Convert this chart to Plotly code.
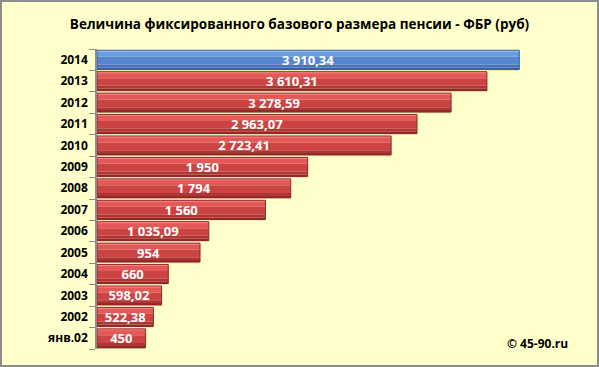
import plotly.graph_objects as go

categories = ["янв.02", "2002", "2003", "2004", "2005", "2006", "2007",
              "2008", "2009", "2010", "2011", "2012", "2013", "2014"]
values = [450, 522.38, 598.02, 660, 954, 1035.09, 1560,
          1794, 1950, 2723.41, 2963.07, 3278.59, 3610.31, 3910.34]
title_text = "Величина фиксированного базового размера пенсии - ФБР (руб)"
credit_text = "© 45-90.ru"


def fmt(v):
    if abs(v - round(v)) < 1e-9:
        s = f"{int(round(v)):,}".replace(",", " ")
    else:
        s = f"{v:,.2f}".replace(",", " ").replace(".", ",")
    return s


labels = [fmt(v) for v in values]
is_hi = [c == "2014" for c in categories]


def pick(blue, red):
    return [blue if h else red for h in is_hi]


W, H = 599, 367
ml, mr, mt, mb = 97, 39, 49, 18
BW = 0.88  # bar width in category units
half = BW / 2

fig = go.Figure()
# shadow under bars
fig.add_trace(go.Bar(
    y=categories, x=values, orientation="h",
    marker=dict(color="rgba(150,140,100,0.35)", line=dict(width=0)),
    width=0.07, offset=-half - 0.06, hoverinfo="skip", showlegend=False,
))
# gradient bands (from top to bottom): offset measured upward on category axis
bands = [
    (half - 0.07, 0.07, pick("#A9C8F2", "#FF8C8C")),
    (half - 0.30, 0.23, pick("#6B9CE0", "#E45858")),
    (-half + 0.22, half - 0.30 - (-half + 0.22), pick("#5587D0", "#CC4343")),
    (-half + 0.08, 0.14, pick("#4774BA", "#B03636")),
    (-half, 0.08, pick("#3A62A0", "#952A2A")),
]
for off, w, col in bands:
    fig.add_trace(go.Bar(
        y=categories, x=values, orientation="h",
        marker=dict(color=col, line=dict(width=0)),
        width=w, offset=off, hoverinfo="skip", showlegend=False,
    ))
# outline + labels
fig.add_trace(go.Bar(
    y=categories, x=values, orientation="h",
    marker=dict(color="rgba(0,0,0,0)",
                line=dict(color=pick("#3A62A0", "#8E2828"), width=1)),
    width=BW, text=labels, textposition="inside", insidetextanchor="middle",
    constraintext="none",
    textfont=dict(family="Open Sans", size=13, color="white", weight="bold"),
    textangle=0, hoverinfo="skip", showlegend=False,
))

fig.update_layout(
    template="none",
    width=W, height=H,
    barmode="overlay",
    paper_bgcolor="#FFFFCC", plot_bgcolor="#FFFFCC",
    margin=dict(l=ml, r=mr, t=mt, b=mb, pad=0),
    title=dict(text="<b>" + title_text + "</b>", x=0.5, xanchor="center",
               y=1 - 24 / H, yanchor="middle",
               font=dict(family="Open Sans", size=13.5, color="black")),
    xaxis=dict(range=[0, 4287], visible=False, showgrid=False, automargin=False,
               fixedrange=True),
    yaxis=dict(type="category", categoryorder="array", categoryarray=categories,
               range=[-0.5, len(categories) - 0.5], automargin=False,
               showline=True, linecolor="#8C8C8C", linewidth=1.5,
               ticks="outside", tickson="boundaries", ticklen=6, tickcolor="#8C8C8C",
               tickfont=dict(family="Open Sans", size=12, color="black", weight="bold"),
               ticklabelstandoff=5, showgrid=False, zeroline=False),
    annotations=[dict(text="<b>" + credit_text + "</b>", xref="paper", yref="paper",
                      x=(570 - ml) / (W - ml - mr), y=(H - 343 - mb) / (H - mt - mb),
                      xanchor="right", yanchor="middle", showarrow=False,
                      font=dict(family="Open Sans", size=12, color="black"))],
    shapes=[dict(type="rect", xref="paper", yref="paper",
                 x0=-(ml - 1) / (W - ml - mr), x1=1 + (mr - 1) / (W - ml - mr),
                 y0=-(mb - 1) / (H - mt - mb), y1=1 + (mt - 1) / (H - mt - mb),
                 line=dict(color="#8C8C8C", width=2), fillcolor="rgba(0,0,0,0)",
                 layer="above")],
)

fig.write_html("out.html", config={"displayModeBar": False},
               post_script="document.body.style.margin='0';document.body.style.overflow='hidden';")
